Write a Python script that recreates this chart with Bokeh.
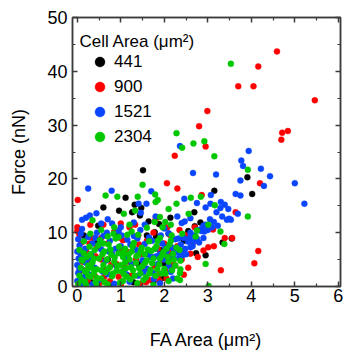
from bokeh.plotting import figure
from bokeh.models import (Range1d, LinearAxis, FixedTicker, Legend, LegendItem,
                          Label, ColumnDataSource, CustomLabelingPolicy)
from bokeh.embed import file_html
from bokeh.resources import INLINE

# ---------------- data (FA area in um^2, force in nN) ----------------
series_labels = ["441", "900", "1521", "2304"]
series_colors = ["#000000", "#ff0000", "#0a46ff", "#00c800"]

x_ticks = [0, 1, 2, 3, 4, 5, 6]
x_minor = [0.5, 1.5, 2.5, 3.5, 4.5, 5.5]
y_ticks = [0, 10, 20, 30, 40, 50]
y_minor = [5, 15, 25, 35, 45]

cell_441 = [
    (1.51, 21.6), (3.91, 20.3), (3.15, 17.8), (4.02, 17.2), (3.55, 8.9), (3.34, 8.2),
    (2.69, 13.8), (2.83, 11.9), (1.88, 11.6), (2.70, 11.2), (1.81, 9.2), (2.73, 6.2),
    (2.95, 5.8), (1.95, 1.6), (1.11, 16.5), (1.32, 15.2), (1.47, 14.6), (0.60, 14.7),
    (0.96, 14.1), (1.26, 13.8), (1.44, 13.2), (1.64, 12.1), (0.48, 11.3), (1.78, 10.1),
    (2.14, 12.8), (0.81, 0.2), (1.29, 0.8), (0.14, 5.4), (0.15, 9.5), (1.60, 9.5),
    (1.00, 6.5), (2.10, 9.8), (1.40, 4.2), (0.40, 8.3), (2.30, 7.2), (1.75, 0.9),
    (2.45, 8.5), (0.90, 9.9), (2.00, 4.3), (1.15, 2.1), (0.30, 0.9), (0.05, 2.8),
    (1.90, 6.8), (0.70, 5.0), (2.55, 10.3),
]

cell_900 = [
    (4.59, 43.7), (4.16, 40.9), (3.70, 37.2), (4.05, 37.2), (5.46, 34.6), (2.99, 32.6),
    (2.80, 29.8), (4.71, 28.6), (4.84, 28.9), (4.69, 27.3), (2.95, 26.0), (2.24, 24.3),
    (0.01, 16.1), (2.06, 19.2), (2.30, 18.2), (4.20, 19.2), (3.64, 13.8), (4.16, 6.6),
    (4.07, 4.3), (3.30, 3.0), (2.86, 17.0), (2.07, 11.0), (3.39, 9.0), (3.56, 9.0),
    (3.12, 10.6), (3.01, 7.3), (3.14, 7.5), (2.90, 6.7), (2.77, 5.5), (2.60, 6.1),
    (2.25, 3.9), (1.89, 1.1), (1.00, 11.7), (1.33, 11.5), (0.00, 11.0),
    (0.00, 10.3), (0.05, 9.6), (0.10, 8.2), (0.15, 3.0), (0.20, 6.6), (0.25, 1.2),
    (0.30, 4.9), (0.35, 9.0), (0.40, 2.0), (0.45, 7.2), (0.50, 0.5), (0.55, 5.0),
    (0.60, 11.5), (0.65, 3.0), (0.70, 8.0), (0.75, 1.0), (0.80, 6.0), (0.85, 10.2),
    (0.90, 4.2), (0.95, 1.8), (1.05, 8.6), (1.10, 3.5), (1.15, 6.4), (1.20, 11.0),
    (1.25, 2.0), (1.30, 7.0), (1.35, 5.0), (1.40, 9.5), (1.45, 0.5), (1.50, 6.0),
    (1.55, 3.5), (1.60, 8.5), (1.65, 1.2), (1.70, 5.5), (1.75, 10.0), (1.85, 7.0),
    (1.90, 2.3), (1.95, 5.0), (2.00, 8.0), (2.05, 1.5), (2.10, 6.5), (2.15, 9.5),
    (2.20, 4.0), (2.30, 7.5), (2.40, 5.0), (2.50, 9.5), (2.55, 3.5), (2.65, 8.0),
    (2.70, 11.0), (0.30, 11.5), (1.00, 0.2), (1.80, 12.5), (2.35, 10.5), (0.55, 9.0),
    (0.12, 4.6), (0.28, 8.0), (0.42, 5.6), (0.62, 1.8), (0.78, 4.0), (0.98, 6.8),
    (1.18, 4.6), (1.42, 7.8), (1.58, 0.8), (1.78, 3.8), (2.02, 3.0), (2.18, 6.0),
    (0.10, 0.5), (1.00, 9.0), (2.45, 2.2),
]

cell_1521 = [
    (2.36, 26.1), (3.94, 25.2), (3.77, 23.4), (3.81, 22.4), (4.22, 21.9), (4.43, 20.5),
    (2.66, 21.1), (3.19, 20.8), (3.75, 19.7), (0.25, 18.2), (0.79, 17.8), (1.70, 17.7),
    (4.29, 18.7), (5.00, 19.2), (5.22, 15.4), (3.64, 17.2), (3.75, 16.9), (3.69, 13.5),
    (3.07, 17.0), (2.46, 16.3), (2.75, 15.5), (2.95, 14.7), (3.29, 14.6), (3.39, 15.2),
    (3.47, 14.4), (3.33, 13.0), (3.44, 12.4), (3.53, 12.4), (2.47, 12.1), (3.14, 12.0),
    (3.23, 11.3), (1.59, 15.4), (0.44, 13.6), (0.29, 13.2), (0.20, 12.8), (1.46, 13.7),
    (0.80, 11.7), (0.11, 10.7), (2.86, 10.7), (2.45, 6.7), (2.34, 5.3), (2.15, 2.7),
    (1.76, 1.4), (0.11, 12.4), (0.55, 11.7), (1.41, 15.4), (3.06, 15.4), (3.30, 15.7),
    (3.49, 12.6), (2.90, 11.3), (2.75, 8.9), (2.60, 7.3),
    (0.00, 1.0), (0.02, 2.5), (0.00, 4.0), (0.03, 5.2), (0.00, 6.5), (0.05, 7.6),
    (0.02, 8.8), (0.08, 9.8), (0.10, 3.2), (0.12, 5.9), (0.15, 1.8), (0.18, 7.0),
    (0.20, 4.4), (0.25, 9.2), (0.28, 2.2), (0.32, 6.0), (0.35, 8.0), (0.40, 3.5),
    (0.45, 10.0), (0.50, 1.2), (0.55, 6.9), (0.60, 9.4), (0.65, 4.8), (0.70, 2.3),
    (0.75, 8.5), (0.80, 6.0), (0.85, 0.5), (0.90, 3.8), (0.95, 10.3), (1.00, 7.5),
    (1.05, 2.8), (1.10, 5.3), (1.15, 8.7), (1.20, 0.9), (1.25, 4.2), (1.30, 9.4),
    (1.35, 6.8), (1.40, 2.0), (1.45, 10.5), (1.50, 4.9), (1.55, 7.9), (1.60, 3.3),
    (1.65, 9.1), (1.70, 5.5), (1.75, 2.5), (1.80, 7.0), (1.85, 4.2), (1.90, 6.0),
    (1.95, 8.0), (2.00, 5.0), (2.05, 6.5), (2.10, 3.8), (2.15, 7.4), (2.20, 5.8),
    (2.25, 8.8), (2.30, 6.3), (2.38, 7.8), (2.45, 9.0), (2.50, 6.0), (2.55, 8.3),
    (2.60, 10.0), (2.65, 7.5), (2.70, 9.5), (2.80, 8.2), (2.85, 10.3), (2.90, 9.0),
    (2.95, 11.5), (3.00, 10.5), (3.05, 12.5), (3.10, 11.0), (3.20, 13.8), (2.20, 1.5),
    (1.90, 0.6), (2.10, 9.9), (1.55, 11.5), (0.70, 12.5), (1.00, 11.0), (1.80, 13.0),
    (2.30, 13.0), (2.00, 10.8), (0.35, 0.4), (2.40, 11.8), (2.60, 12.7), (1.30, 11.9),
    (0.12, 0.2),
    (0.05, 3.3), (0.08, 6.0), (0.15, 8.5), (0.22, 2.6), (0.30, 5.3), (0.42, 9.0),
    (0.50, 7.8), (0.58, 2.8), (0.68, 10.0), (0.72, 6.5), (0.88, 7.0), (1.02, 9.5),
    (1.12, 2.3), (1.22, 7.8), (1.38, 8.9), (1.52, 2.6), (1.62, 6.0), (1.72, 8.5),
    (1.82, 5.6), (1.92, 9.5), (2.02, 7.2), (2.12, 5.2), (2.22, 7.0), (2.32, 8.9),
    (2.42, 5.8), (2.48, 7.0), (2.58, 9.0), (2.68, 8.4), (2.78, 10.5), (2.92, 10.2),
]

cell_2304 = [
    (3.53, 41.4), (2.28, 28.5), (2.41, 25.8), (2.67, 26.6), (2.92, 27.0), (3.15, 24.2),
    (3.92, 21.7), (1.50, 18.9), (3.92, 13.0), (3.02, 0.1), (0.65, 16.9), (0.92, 16.7),
    (1.39, 16.7), (1.79, 17.1), (1.80, 15.7), (1.85, 16.1), (2.61, 16.5), (2.84, 16.7),
    (2.28, 15.4), (3.16, 15.1), (2.10, 14.4), (2.56, 13.5), (1.90, 12.9), (3.01, 11.5),
    (2.02, 12.0), (2.15, 11.5), (1.07, 13.5), (1.33, 14.1), (0.35, 12.3), (1.78, 12.0),
    (1.20, 11.5), (3.29, 10.2), (2.95, 4.2), (2.37, 4.8), (2.37, 3.2), (1.93, 2.4),
    (2.30, 1.5), (0.83, 9.8), (0.85, 11.0), (1.96, 11.0), (2.17, 9.5), (2.41, 9.8),
    (2.75, 10.4), (2.72, 9.3), (3.38, 7.9), (2.36, 2.5), (2.36, 1.2),
    (0.02, 0.5), (0.05, 2.0), (0.08, 3.5), (0.10, 1.2), (0.12, 4.8), (0.15, 6.2),
    (0.18, 2.8), (0.20, 0.3), (0.22, 5.5), (0.25, 3.9), (0.28, 7.4), (0.30, 1.8),
    (0.35, 4.5), (0.38, 2.5), (0.40, 6.8), (0.42, 0.9), (0.45, 3.2), (0.50, 5.2),
    (0.52, 8.6), (0.55, 1.5), (0.60, 4.0), (0.62, 6.5), (0.65, 2.6), (0.70, 0.4),
    (0.72, 7.8), (0.75, 3.6), (0.78, 5.9), (0.80, 1.9), (0.85, 4.6), (0.88, 8.9),
    (0.90, 2.9), (0.95, 6.2), (0.98, 0.7), (1.00, 4.0), (1.05, 5.5), (1.08, 2.2),
    (1.10, 7.0), (1.12, 3.4), (1.15, 9.6), (1.20, 5.0), (1.22, 1.3), (1.25, 6.5),
    (1.28, 3.0), (1.30, 8.1), (1.35, 4.4), (1.38, 0.6), (1.40, 5.8), (1.45, 2.4),
    (1.48, 7.2), (1.50, 3.8), (1.55, 6.0), (1.58, 1.7), (1.60, 4.9), (1.65, 8.4),
    (1.68, 3.1), (1.70, 6.6), (1.75, 5.2), (1.80, 2.0), (1.82, 7.5), (1.88, 4.1),
    (1.90, 9.0), (1.95, 5.8), (2.00, 3.3), (2.05, 7.0), (2.10, 4.6), (2.15, 8.5),
    (2.20, 6.1), (2.25, 3.9), (0.30, 9.8), (0.55, 10.5), (0.70, 9.3), (1.60, 10.9),
    (1.25, 10.2), (2.35, 6.8), (0.15, 8.4), (1.05, 1.0), (0.45, 0.2), (1.75, 0.3),
    (2.10, 1.0),
    (0.05, 6.8), (0.10, 5.0), (0.18, 0.9), (0.22, 3.0), (0.30, 6.0), (0.33, 3.5),
    (0.38, 5.2), (0.45, 1.6), (0.48, 7.6), (0.55, 3.0), (0.58, 6.0), (0.63, 0.8),
    (0.68, 5.0), (0.70, 3.2), (0.76, 6.9), (0.82, 2.4), (0.86, 5.4), (0.92, 3.8),
    (0.96, 7.4), (1.02, 2.8), (1.06, 6.4), (1.10, 4.5), (1.14, 1.8), (1.18, 6.0),
    (1.23, 3.6), (1.27, 7.5), (1.32, 2.0), (1.36, 5.6), (1.42, 3.4), (1.46, 6.6),
    (1.52, 1.2), (1.56, 4.4), (1.62, 6.9), (1.66, 2.4), (1.72, 4.3), (1.78, 7.0),
    (1.84, 3.2), (1.90, 5.2), (1.98, 6.4), (2.03, 2.4), (2.08, 5.5), (2.12, 7.8),
    (2.18, 3.0), (2.22, 5.0), (2.28, 7.2), (0.95, 9.2), (1.40, 9.6), (0.60, 8.0),
    (1.85, 8.5), (0.25, 2.0),
]

series_points = [cell_441, cell_900, cell_1521, cell_2304]

# ---------------- figure ----------------
FONT = "Liberation Sans"
AX_COLOR = "#3c3c3c"

p = figure(width=352, height=358, output_backend="svg", toolbar_location=None,
           x_range=Range1d(-0.11, 6.05), y_range=Range1d(0, 50),
           min_border_left=72, min_border_right=4, min_border_top=17,
           min_border_bottom=72, x_axis_label="FA Area (\u03bcm\u00b2)",
           y_axis_label="Force (nN)")
p.grid.visible = False
p.outline_line_color = AX_COLOR
p.outline_line_width = 1.5
p.background_fill_color = "white"
p.border_fill_color = "white"

xticker = FixedTicker(ticks=x_ticks, minor_ticks=x_minor)
yticker = FixedTicker(ticks=y_ticks, minor_ticks=y_minor)

hide_labels = CustomLabelingPolicy(
    code="const all = [...indices]; for (const i of all) indices.unset(i); return indices;")


def style_axis(ax, show_labels=True):
    ax.axis_line_color = AX_COLOR
    ax.axis_line_width = 1.5
    ax.major_tick_line_color = AX_COLOR
    ax.major_tick_line_width = 1.5
    ax.major_tick_in = 5
    ax.major_tick_out = 0
    ax.minor_tick_line_color = AX_COLOR
    ax.minor_tick_line_width = 1.2
    ax.minor_tick_in = 3
    ax.minor_tick_out = 0
    if show_labels:
        ax.major_label_text_font = FONT
        ax.major_label_text_font_size = "18px"
        ax.major_label_text_color = "black"
        ax.axis_label_text_font = FONT
        ax.axis_label_text_font_size = "18px"
        ax.axis_label_text_font_style = "normal"
        ax.axis_label_text_color = "black"
    else:
        ax.major_label_text_font_size = "8px"
        ax.major_label_standoff = 0
        ax.major_label_policy = hide_labels


p.xaxis[0].ticker = xticker
p.yaxis[0].ticker = yticker
style_axis(p.xaxis[0])
style_axis(p.yaxis[0])
p.xaxis[0].major_label_standoff = 2
p.xaxis[0].axis_label_standoff = 25
p.yaxis[0].major_label_standoff = 5
p.yaxis[0].axis_label_standoff = 15

top_ax = LinearAxis(ticker=xticker)
right_ax = LinearAxis(ticker=yticker)
style_axis(top_ax, False)
style_axis(right_ax, False)
p.add_layout(top_ax, "above")
p.add_layout(right_ax, "right")

renderers = []
for pts, col in zip(series_points, series_colors):
    src = ColumnDataSource(dict(x=[a for a, b in pts], y=[b for a, b in pts]))
    r = p.scatter("x", "y", source=src, size=6, fill_color=col, line_color=col,
                  line_width=0.4)
    renderers.append(r)

legend = Legend(items=[LegendItem(label=lab, renderers=[r])
                       for lab, r in zip(series_labels, renderers)],
                location=(15, 137), padding=0, margin=0, spacing=-3,
                glyph_height=25, glyph_width=25, label_standoff=2,
                label_text_font=FONT, label_text_font_size="17px",
                label_text_color="black", background_fill_alpha=0,
                border_line_color=None)
p.add_layout(legend)

title = Label(x=7, y=245, x_units="screen", y_units="screen",
              text="Cell Area (\u03bcm\u00b2)", text_baseline="middle",
              text_font=FONT, text_font_size="17px", text_color="black")
p.add_layout(title)

open("out.html", "w").write(file_html(p, INLINE))
